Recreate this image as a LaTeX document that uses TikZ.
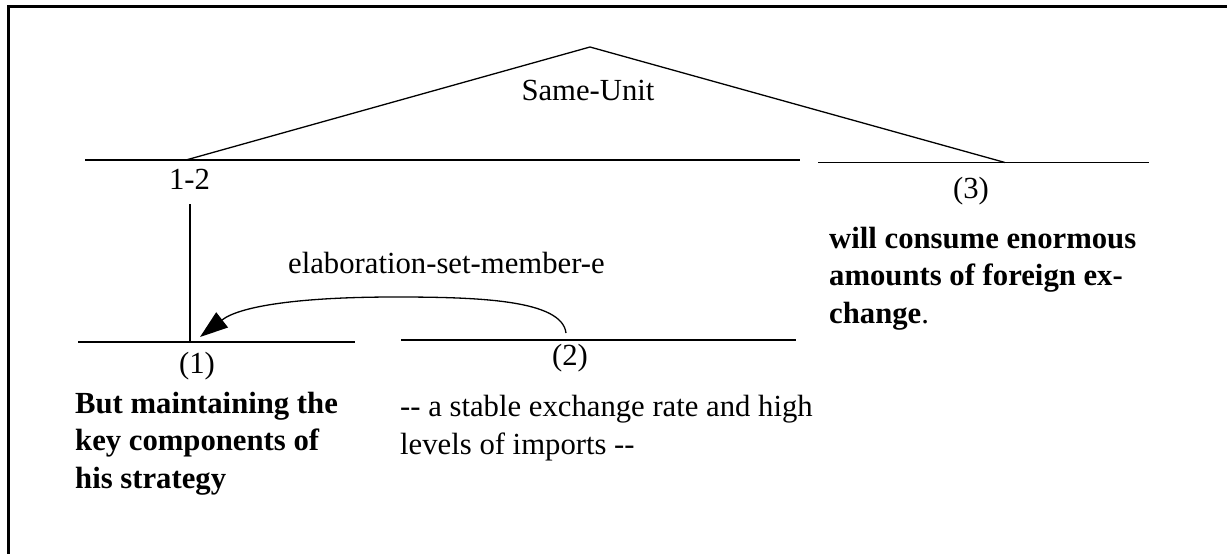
\documentclass[tikz,border=0pt]{standalone}
\usepackage{fontspec}
\setmainfont{Liberation Serif}
\usetikzlibrary{arrows.meta}
\begin{document}
\begin{tikzpicture}[x=1pt,y=-1pt,
  span/.style={line width=1.3pt},
  rel/.style={line width=1.3pt,-{Triangle[length=28pt,width=19pt]}},
  lbl/.style={font=\fontsize{30.7}{37.5}\selectfont, inner sep=0pt, anchor=base},
  body/.style={font=\fontsize{30.7}{37.5}\selectfont, inner sep=0pt, anchor=base west, align=left},
]
\useasboundingbox (0,0) rectangle (1227,554);
% frame
\draw[line width=3pt] (8.5,554) -- (8.5,6.5) -- (1227,6.5);

% span lines
\coordinate (a1) at (85,160);   \coordinate (b1) at (800,160);
\coordinate (a3) at (818,162.5); \coordinate (b3) at (1149,162.5);
\coordinate (a11) at (78,342);  \coordinate (b11) at (355,342);
\coordinate (a2) at (401,340);  \coordinate (b2) at (796,340);
\draw[span] (a1) -- (b1);
\draw[span] (a3) -- (b3);
\draw[span] (a11) -- (b11);
\draw[span] (a2) -- (b2);

% Same-Unit roof
\coordinate (apex) at (590,47);
\coordinate (foot12) at (186,160);
\coordinate (foot3) at (1005,162.5);
\draw[span] (foot12) -- (apex) -- (foot3);
\node[lbl] (su) at (588,100) {Same-Unit};

% span labels
\node[lbl] (n12) at (189.5,189) {1-2};
\node[lbl] (n1) at (197,373) {(1)};
\node[lbl] (n2) at (570,365) {(2)};
\node[lbl] (n3) at (971,198) {(3)};

% nucleus link
\coordinate (v1) at (190,204);
\coordinate (v2) at (190,342);
\draw[span] (v1) -- (v2);

% elaboration relation
\coordinate (e2) at (566,333);
\coordinate (e1) at (200,337);
\draw[rel] (e2) .. controls (562,300) and (480,297) .. (395,297)
               .. controls (300,297) and (240,306) .. (e1);
\node[body] (rl) at (288,273) {elaboration-set-member-e};

% segment texts (anchored at the baseline of their last line)
\node[body] (t1) at (75,488) {\textbf{But maintaining the}\\\textbf{key components of}\\\textbf{his strategy}};
\node[body] (t2) at (400,454) {-{}- a stable exchange rate and high\\levels of imports -{}-};
\node[body] (t3) at (829,323) {\textbf{will consume enormous}\\\textbf{amounts of foreign ex-}\\\textbf{change}.};
\end{tikzpicture}
\end{document}
